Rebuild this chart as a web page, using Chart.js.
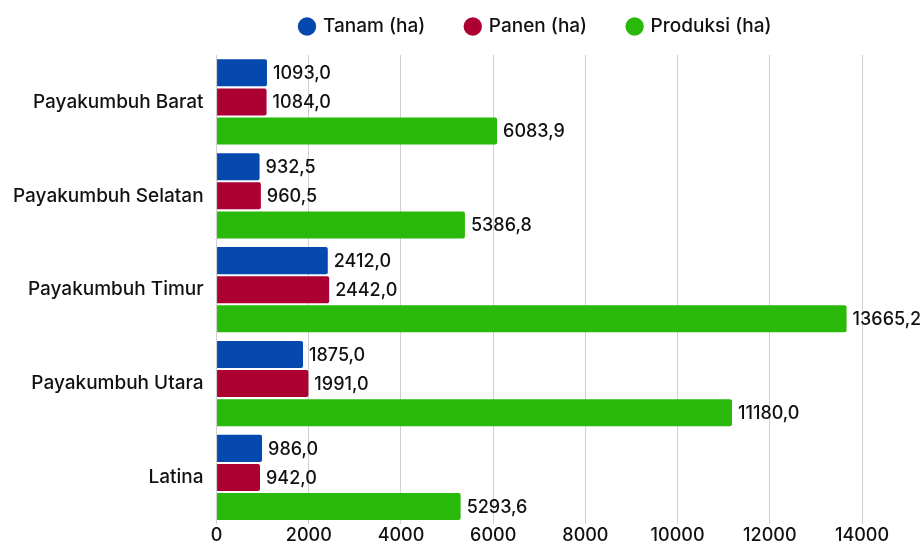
<!DOCTYPE html>
<html><head><meta charset="utf-8">
<script src="https://cdn.jsdelivr.net/npm/chart.js@4/dist/chart.umd.min.js"></script>
<style>html,body{margin:0;padding:0;background:#fff}#wrap{width:921px;height:546px}</style>
</head><body><div id="wrap"><canvas id="c"></canvas></div>
<script>
const categories = ["Payakumbuh Barat","Payakumbuh Selatan","Payakumbuh Timur","Payakumbuh Utara","Latina"];
const seriesNames = ["Tanam (ha)","Panen (ha)","Produksi (ha)"];
const tanam = [1093.0, 932.5, 2412.0, 1875.0, 986.0];
const panen = [1084.0, 960.5, 2442.0, 1991.0, 942.0];
const produksi = [6083.9, 5386.8, 13665.2, 11180.0, 5293.6];
const colors = ["#0548AE","#AC0033","#29B90A"];
const xTicks = [0,2000,4000,6000,8000,10000,12000,14000];

const FONT = "Inter, 'Noto Sans', sans-serif";
const fmt = v => v.toFixed(1).replace('.', ',');

const valueLabels = {
  id: 'valueLabels',
  afterDatasetsDraw(chart) {
    const ctx = chart.ctx;
    ctx.save();
    ctx.font = "500 18px " + FONT;
    ctx.fillStyle = "#111";
    ctx.textAlign = "left";
    ctx.textBaseline = "middle";
    chart.data.datasets.forEach((ds, i) => {
      chart.getDatasetMeta(i).data.forEach((el, j) => {
        ctx.fillText(fmt(ds.data[j]), el.x + 6, el.y + 1);
      });
    });
    ctx.restore();
  }
};

const legendTweak = {
  id: 'legendTweak',
  beforeInit(chart) {
    const lg = chart.legend;
    if (!lg) return;
    const orig = lg.fit;
    lg.fit = function() { orig.call(this); this.height = 79; };
  },
  afterLayout(chart) {
    const lg = chart.legend;
    if (!lg) return;
    const shift = 536 - (lg.left + lg.right) / 2;
    lg.left += shift; lg.right += shift;
  }
};

new Chart(document.getElementById('c'), {
  type: 'bar',
  data: {
    labels: categories,
    datasets: [
      {label: seriesNames[0], data: tanam, backgroundColor: colors[0]},
      {label: seriesNames[1], data: panen, backgroundColor: colors[1]},
      {label: seriesNames[2], data: produksi, backgroundColor: colors[2]}
    ]
  },
  options: {
    indexAxis: 'y',
    responsive: true,
    maintainAspectRatio: false,
    animation: false,
    layout: {padding: {left: 8, right: 59, top: -24, bottom: 0}},
    datasets: {bar: {categoryPercentage: 0.93, barPercentage: 0.93, borderRadius: 2, borderSkipped: 'start'}},
    scales: {
      x: {
        min: 0, max: 14000,
        afterBuildTicks: s => { s.ticks = xTicks.map(v => ({value: v})); },
        grid: {color: '#d0d0d0', drawTicks: false},
        border: {display: false},
        ticks: {color: '#111', font: {family: FONT, size: 18, weight: 500}, padding: 0, callback: v => String(v)}
      },
      y: {
        grid: {display: false},
        border: {display: false},
        ticks: {color: '#111', font: {family: FONT, size: 19, weight: 500}, padding: 5}
      }
    },
    plugins: {
      legend: {
        position: 'top',
        labels: {usePointStyle: true, pointStyle: 'circle', boxWidth: 13, boxHeight: 13, padding: 41, color: '#111', font: {family: FONT, size: 19, weight: 500}}
      },
      tooltip: {enabled: false}
    }
  },
  plugins: [valueLabels, legendTweak]
});
</script></body></html>
